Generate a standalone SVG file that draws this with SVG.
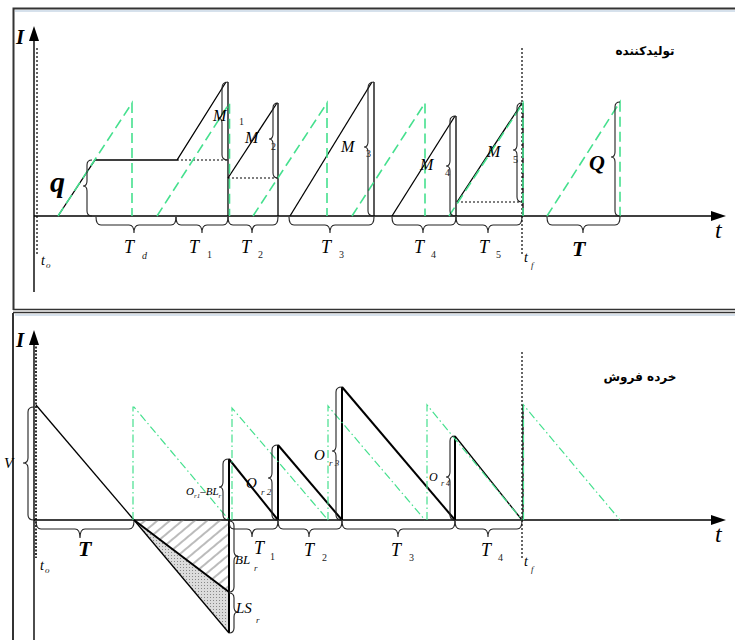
<svg xmlns="http://www.w3.org/2000/svg" width="735" height="640" viewBox="0 0 735 640">
<defs>
<style>
.ax{stroke:#000;stroke-width:1.4;fill:none}
.bk{stroke:#000;stroke-width:1.3;fill:none}
.bk2{stroke:#000;stroke-width:2;fill:none}
.br{stroke:#222;stroke-width:1.1;fill:none}
.gd{stroke:#45e08e;stroke-width:1.6;fill:none;stroke-dasharray:10 5}
.gdd{stroke:#45e08e;stroke-width:1.2;fill:none;stroke-dasharray:8 3 1.5 3}
.dot{stroke:#000;stroke-width:1.2;fill:none;stroke-dasharray:2 2}
.dot2{stroke:#000;stroke-width:1.6;fill:none;stroke-dasharray:2 1.5}
.lbl{font-family:"Liberation Serif",serif;font-style:italic;fill:#000}
.sub{font-family:"Liberation Serif",serif;fill:#222}
.bld{font-family:"Liberation Serif",serif;font-style:italic;font-weight:bold;fill:#000}
.fa{font-family:"DejaVu Sans",sans-serif;font-weight:bold;font-size:12px;fill:#000}
</style>
<pattern id="hatch" patternUnits="userSpaceOnUse" width="8" height="8" patternTransform="rotate(-40)">
<line x1="0" y1="4" x2="8" y2="4" stroke="#777" stroke-width="1"/>
</pattern>
<pattern id="dots" patternUnits="userSpaceOnUse" width="3" height="3">
<rect width="3" height="3" fill="#dcdcdc"/>
<rect x="0" y="0" width="1" height="1" fill="#888"/>
</pattern>
</defs>
<rect width="735" height="640" fill="#fff"/>

<g id="frames">
<path d="M13.5,310 L13.5,8.5 L735,8.5" stroke="#333" stroke-width="2" fill="none"/>
<line x1="15" y1="11" x2="735" y2="11" stroke="#c9d7e6" stroke-width="1.5"/>
<line x1="13" y1="309.5" x2="735" y2="309.5" stroke="#333" stroke-width="1.5"/>
<line x1="13" y1="312.5" x2="735" y2="312.5" stroke="#333" stroke-width="1.5"/>
<line x1="15" y1="315" x2="735" y2="315" stroke="#c9d7e6" stroke-width="1.5"/>
<line x1="13" y1="313" x2="13" y2="640" stroke="#333" stroke-width="2"/>
</g>

<!-- ================= TOP PANEL ================= -->
<g id="top-axes">
<line class="ax" x1="34" y1="292" x2="34" y2="38"/>
<polygon points="34,26 29,41 39,41" fill="#000"/>
<line class="ax" x1="34" y1="216" x2="713" y2="216"/>
<polygon points="726,216 711,211 711,221" fill="#000"/>
<line class="dot" x1="37" y1="48" x2="37" y2="256"/>
<line class="dot" x1="522" y1="48" x2="522" y2="256"/>
<text class="bld" x="16" y="44" font-size="21">I</text>
<text class="lbl" x="715" y="238" font-size="24">t</text>
<text class="lbl" x="41" y="265" font-size="14">t</text>
<text class="sub" x="46" y="268" font-size="9" font-style="italic">o</text>
<text class="lbl" x="524" y="262" font-size="14">t</text>
<text class="sub" x="531" y="268" font-size="9" font-style="italic">f</text>
<text class="fa" x="645" y="55" text-anchor="middle" direction="rtl">تولیدکننده</text>
</g>

<g id="top-black">
<polyline class="bk" points="58,216 95,160 177,160 226,82"/>
<line class="bk" x1="228" y1="82" x2="228" y2="216"/>
<line class="dot" x1="177" y1="160" x2="228" y2="160"/>
<line class="bk" x1="228" y1="178" x2="277" y2="103"/>
<line class="bk" x1="278" y1="103" x2="278" y2="216"/>
<line class="dot" x1="228" y1="178" x2="278" y2="178"/>
<line class="bk" x1="290" y1="216" x2="372" y2="82"/>
<line class="bk" x1="374" y1="82" x2="374" y2="216"/>
<line class="bk" x1="392" y1="216" x2="455" y2="116"/>
<line class="bk" x1="456" y1="116" x2="456" y2="216"/>
<line class="bk" x1="457" y1="202" x2="522" y2="103"/>
<line class="bk" x1="523" y1="103" x2="523" y2="216"/>
<line class="dot" x1="457" y1="202" x2="522" y2="202"/>
</g>

<g id="top-green">
<polyline class="gd" points="58,216 132,103 132,216"/>
<polyline class="gd" points="157,216 229.5,103 229.5,216"/>
<polyline class="gd" points="253,216 327,103 327,216"/>
<polyline class="gd" points="352,216 425,103 425,216"/>
<polyline class="gd" points="449,216 523,103 523,216"/>
<polyline class="gd" points="547,216 620,102 620,216"/>
</g>

<g id="top-braces">
<path class="br" d="M92,160 Q87,160 87,165 L87,181 Q87,186 83,186 Q87,186 87,191 L87,211 Q87,216 92,216"/>
<path class="br" d="M228,82 Q222,82 222,88 L222,113 Q222,118 218,118 Q222,118 222,123 L222,155 Q222,160 228,160"/>
<path class="br" d="M278,103 Q273,103 273,108 L273,134 Q273,139 269,139 Q273,139 273,144 L273,173 Q273,178 278,178"/>
<path class="br" d="M374,82 Q368,82 368,88 L368,142 Q368,147 364,147 Q368,147 368,152 L368,211 Q368,216 374,216"/>
<path class="br" d="M456,116 Q450,116 450,121 L450,161 Q450,166 446,166 Q450,166 450,171 L450,211 Q450,216 456,216"/>
<path class="br" d="M522,103 Q517,103 517,108 L517,145 Q517,150 513,150 Q517,150 517,155 L517,197 Q517,202 522,202"/>
<path class="br" d="M620,102 Q615,102 615,107 L615,152 Q615,157 611,157 Q615,157 615,162 L615,211 Q615,216 620,216"/>
<path class="br" d="M96,217 Q96,225 101,225 L129,225 Q134,225 134,233 Q134,225 139,225 L171,225 Q176,225 176,217"/>
<path class="br" d="M176,217 Q176,225 181,225 L197,225 Q202,225 202,233 Q202,225 207,225 L223,225 Q228,225 228,217"/>
<path class="br" d="M228,217 Q228,225 233,225 L247,225 Q252,225 252,233 Q252,225 257,225 L273,225 Q278,225 278,217"/>
<path class="br" d="M289,217 Q289,225 294,225 L325,225 Q330,225 330,233 Q330,225 335,225 L369,225 Q374,225 374,217"/>
<path class="br" d="M392,217 Q392,225 397,225 L418,225 Q423,225 423,233 Q423,225 428,225 L451,225 Q456,225 456,217"/>
<path class="br" d="M456,217 Q456,225 461,225 L483,225 Q488,225 488,233 Q488,225 493,225 L517,225 Q522,225 522,217"/>
<path class="br" d="M547,217 Q547,225 552,225 L578,225 Q583,225 583,233 Q583,225 588,225 L615,225 Q620,225 620,217"/>
</g>

<g id="top-labels">
<text class="bld" x="50" y="192" font-size="30">q</text>
<text class="lbl" x="213" y="121" font-size="16">M</text>
<text class="sub" x="239" y="125" font-size="10">1</text>
<text class="lbl" x="245" y="143" font-size="16">M</text>
<text class="sub" x="271" y="150" font-size="10">2</text>
<text class="lbl" x="341" y="152" font-size="16">M</text>
<text class="sub" x="366" y="157" font-size="10">3</text>
<text class="lbl" x="420" y="170" font-size="16">M</text>
<text class="sub" x="445" y="176" font-size="10">4</text>
<text class="lbl" x="487" y="157" font-size="16">M</text>
<text class="sub" x="513" y="163" font-size="10">5</text>
<text class="bld" x="589" y="170" font-size="22">Q</text>
<text class="lbl" x="124" y="253" font-size="18">T</text>
<text class="sub" x="142" y="259" font-size="10" font-style="italic">d</text>
<text class="lbl" x="189" y="253" font-size="18">T</text>
<text class="sub" x="207" y="258" font-size="10">1</text>
<text class="lbl" x="241" y="253" font-size="18">T</text>
<text class="sub" x="258" y="258" font-size="10">2</text>
<text class="lbl" x="321" y="253" font-size="18">T</text>
<text class="sub" x="339" y="258" font-size="10">3</text>
<text class="lbl" x="414" y="253" font-size="18">T</text>
<text class="sub" x="431" y="258" font-size="10">4</text>
<text class="lbl" x="479" y="253" font-size="18">T</text>
<text class="sub" x="496" y="258" font-size="10">5</text>
<text class="bld" x="572" y="256" font-size="22">T</text>
</g>

<!-- ================= BOTTOM PANEL ================= -->
<g id="bottom-axes">
<line class="ax" x1="34" y1="640" x2="34" y2="342"/>
<polygon points="34,330 29,345 39,345" fill="#000"/>
<line class="ax" x1="34" y1="520" x2="713" y2="520"/>
<polygon points="726,520 711,515 711,525" fill="#000"/>
<line class="dot2" x1="36" y1="343" x2="36" y2="558"/>
<line class="dot" x1="522" y1="352" x2="522" y2="558"/>
<text class="bld" x="16" y="347" font-size="21">I</text>
<text class="lbl" x="715" y="542" font-size="24">t</text>
<text class="lbl" x="40" y="570" font-size="14">t</text>
<text class="sub" x="45" y="573" font-size="9" font-style="italic">o</text>
<text class="lbl" x="524" y="566" font-size="14">t</text>
<text class="sub" x="531" y="572" font-size="9" font-style="italic">f</text>
<text class="fa" x="640" y="381" text-anchor="middle" direction="rtl">خرده فروش</text>
</g>

<g id="shortage">
<polygon points="134,520 229,520 229,592" fill="url(#hatch)"/>
<polygon points="134,520 229,592 229,633" fill="url(#dots)"/>
<line class="bk2" x1="134" y1="520" x2="229" y2="592"/>
<line class="bk" x1="134" y1="520" x2="229" y2="633"/>
</g>

<g id="bottom-black">
<line class="bk" x1="36" y1="405" x2="134" y2="520"/>
<line class="bk2" x1="229" y1="459" x2="229" y2="633"/>
<line class="bk2" x1="229" y1="459" x2="278" y2="520"/>
<line class="bk2" x1="278" y1="445" x2="278" y2="520"/>
<line class="bk2" x1="278" y1="445" x2="342" y2="520"/>
<line class="bk2" x1="342" y1="387" x2="342" y2="520"/>
<line class="bk2" x1="342" y1="387" x2="455" y2="520"/>
<line class="bk2" x1="455" y1="436" x2="455" y2="520"/>
<line class="bk" x1="455" y1="436" x2="522" y2="520"/>
<line class="bk" x1="523" y1="405" x2="523" y2="520"/>
</g>

<g id="bottom-green">
<polyline class="gdd" points="133,520 133,407 134,407 229,520"/>
<polyline class="gdd" points="232,520 232,408 328,520"/>
<polyline class="gdd" points="328,520 328,406 425,520"/>
<polyline class="gdd" points="427,520 427,405 522,520"/>
<polyline class="gdd" points="523.5,520 523.5,405 620,520"/>
</g>

<g id="bottom-braces">
<path class="br" d="M34,407 Q28,407 28,412 L28,458 Q28,463 23,463 Q28,463 28,468 L28,515 Q28,520 34,520"/>
<path class="br" d="M229,459 Q223,459 223,464 L223,482 Q223,487 219,487 Q223,487 223,492 L223,515 Q223,520 229,520"/>
<path class="br" d="M278,445 Q272,445 272,450 L272,473 Q272,478 268,478 Q272,478 272,483 L272,515 Q272,520 278,520"/>
<path class="br" d="M342,387 Q336,387 336,392 L336,446 Q336,451 332,451 Q336,451 336,456 L336,515 Q336,520 342,520"/>
<path class="br" d="M455,436 Q450,436 450,441 L450,472 Q450,477 446,477 Q450,477 450,482 L450,515 Q450,520 455,520"/>
<path class="br" d="M229,521 Q234,521 234,526 L234,551 Q234,556 238,556 Q234,556 234,561 L234,587 Q234,592 229,592"/>
<path class="br" d="M229,593 Q234,593 234,598 L234,607 Q234,612 238,612 Q234,612 234,617 L234,628 Q234,633 229,633"/>
<path class="br" d="M36,521 Q36,529 41,529 L75,529 Q80,529 80,538 Q80,529 85,529 L129,529 Q134,529 134,521"/>
<path class="br" d="M229,521 Q229,529 234,529 L247,529 Q252,529 252,537 Q252,529 257,529 L273,529 Q278,529 278,521"/>
<path class="br" d="M278,521 Q278,529 283,529 L304,529 Q309,529 309,537 Q309,529 314,529 L337,529 Q342,529 342,521"/>
<path class="br" d="M342,521 Q342,529 347,529 L393,529 Q398,529 398,537 Q398,529 403,529 L450,529 Q455,529 455,521"/>
<path class="br" d="M455,521 Q455,529 460,529 L483,529 Q488,529 488,537 Q488,529 493,529 L517,529 Q522,529 522,521"/>
</g>

<g id="bottom-labels">
<text class="lbl" x="4" y="468" font-size="15">V</text>
<text class="lbl" x="186" y="495" font-size="11">O<tspan class="sub" font-size="7" dy="3">r1</tspan><tspan dy="-3">–BL</tspan><tspan class="sub" font-size="7" dy="3">r</tspan></text>
<text class="lbl" x="246" y="488" font-size="15">O</text>
<text class="sub" x="261" y="495" font-size="9" font-style="italic">r 2</text>
<text class="lbl" x="314" y="460" font-size="15">O</text>
<text class="sub" x="329" y="466" font-size="9" font-style="italic">r 3</text>
<text class="lbl" x="429" y="481" font-size="12">O</text>
<text class="sub" x="441" y="486" font-size="8" font-style="italic">r 4</text>
<text class="lbl" x="235" y="564" font-size="13">BL</text>
<text class="sub" x="254" y="571" font-size="9" font-style="italic">r</text>
<text class="lbl" x="236" y="613" font-size="15">LS</text>
<text class="sub" x="256" y="623" font-size="9" font-style="italic">r</text>
<text class="bld" x="78" y="556" font-size="22">T</text>
<text class="lbl" x="254" y="554" font-size="18">T</text>
<text class="sub" x="270" y="560" font-size="10">1</text>
<text class="lbl" x="304" y="556" font-size="18">T</text>
<text class="sub" x="322" y="561" font-size="10">2</text>
<text class="lbl" x="391" y="556" font-size="18">T</text>
<text class="sub" x="409" y="561" font-size="10">3</text>
<text class="lbl" x="481" y="556" font-size="18">T</text>
<text class="sub" x="498" y="561" font-size="10">4</text>
</g>
</svg>
